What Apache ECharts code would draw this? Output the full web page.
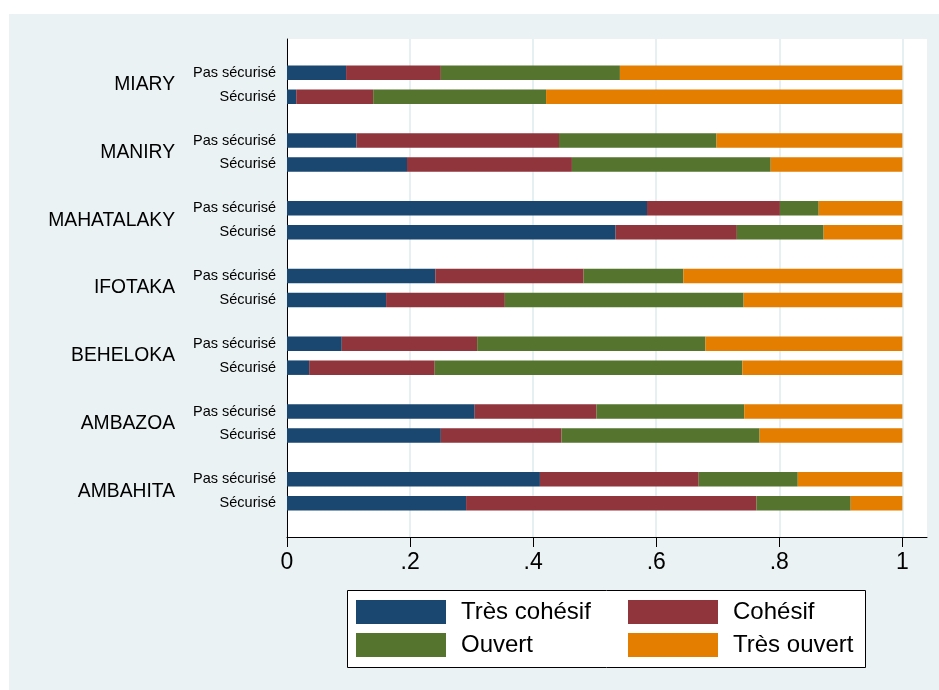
<!DOCTYPE html>
<html>
<head>
<meta charset="utf-8">
<script src="https://cdn.jsdelivr.net/npm/echarts@6/dist/echarts.min.js"></script>
<style>
  html, body { margin: 0; padding: 0; background: #fff; }
  #main { position: absolute; left: 9px; top: 14px; width: 930px; height: 676px; }
</style>
</head>
<body>
<div id="main"></div>
<script>
// villages, top to bottom
const groups = ['MIARY', 'MANIRY', 'MAHATALAKY', 'IFOTAKA', 'BEHELOKA', 'AMBAZOA', 'AMBAHITA']
const subgroups = ['Pas sécurisé', 'Sécurisé']
const seriesNames = ['Très cohésif', 'Cohésif', 'Ouvert', 'Très ouvert']
const xTicks = [0, 0.2, 0.4, 0.6, 0.8, 1]

// shares, per village: [Pas sécurisé, Sécurisé]
const tresCohesif = [0.096, 0.015, 0.113, 0.195, 0.585, 0.534, 0.241, 0.161, 0.089, 0.036, 0.305, 0.250, 0.411, 0.291]
const cohesif = [0.154, 0.125, 0.329, 0.268, 0.216, 0.197, 0.241, 0.193, 0.220, 0.204, 0.198, 0.196, 0.258, 0.472]
const ouvert = [0.291, 0.281, 0.256, 0.323, 0.063, 0.141, 0.162, 0.388, 0.371, 0.500, 0.240, 0.322, 0.161, 0.153]
const tresOuvert = [0.459, 0.579, 0.302, 0.214, 0.136, 0.128, 0.356, 0.258, 0.320, 0.260, 0.257, 0.232, 0.170, 0.084]

const colorList = ['#1a476f', '#90353b', '#55752f', '#e37e00']

// slots on the category axis (gaps like stata's over())
const nSlots = 125
const firstSlot = 8
const groupStep = 17
const subStep = 6

const slotNames = []
const slotLabels = []
for (let i = 0; i < nSlots; i++) {
  slotNames.push('s' + i)
  slotLabels.push('')
}
const barSlots = []
groups.forEach((g, gi) => {
  const base = firstSlot + gi * groupStep
  barSlots.push(base, base + subStep)
  slotLabels[base] = subgroups[0]
  slotLabels[base + subStep] = subgroups[1]
  slotLabels[base + subStep / 2] = '{g|' + g + '}'
})

function toSlots (values) {
  const out = slotNames.map(() => '-')
  values.forEach((v, i) => { out[barSlots[i]] = v })
  return out
}

const allValues = [tresCohesif, cohesif, ouvert, tresOuvert]
const seriesData = allValues.map((vals, k) => {
  return {
    name: seriesNames[k],
    type: 'bar',
    stack: 'total',
    barWidth: 14.5,
    itemStyle: { color: colorList[k] },
    emphasis: { disabled: true },
    data: toSlots(vals)
  }
})

const font = 'Liberation Sans, Arial, sans-serif'

const legendCommon = {
  orient: 'vertical',
  top: 586,
  padding: 0,
  itemWidth: 90,
  itemHeight: 24,
  itemGap: 9,
  icon: 'rect',
  selectedMode: false,
  backgroundColor: 'transparent',
  borderWidth: 0,
  z: 10,
  textStyle: { fontSize: 24, color: '#000', fontFamily: font, padding: [0, 0, 0, 10] }
}

const option = {
  backgroundColor: '#eaf2f3',
  animation: false,
  color: colorList,
  textStyle: { fontFamily: font },
  grid: {
    left: 278,
    right: 12,
    top: 25,
    bottom: 153,
    show: true,
    backgroundColor: '#fff',
    borderWidth: 0
  },
  xAxis: {
    type: 'value',
    min: 0,
    max: 1.04,
    interval: 0.2,
    axisLine: { show: true, lineStyle: { color: '#000', width: 1 } },
    axisTick: { show: true, length: 10, customValues: xTicks, lineStyle: { color: '#000' } },
    axisLabel: {
      customValues: xTicks,
      fontSize: 23,
      color: '#000',
      margin: 14,
      fontFamily: font,
      formatter: function (v) {
        if (v === 0 || v === 1) return String(v)
        return String(v).replace(/^0/, '')
      }
    },
    splitLine: { show: true, lineStyle: { color: '#e6eff1', width: 2 } }
  },
  yAxis: {
    type: 'category',
    inverse: true,
    data: slotNames,
    axisLine: { show: true, lineStyle: { color: '#000', width: 1 } },
    axisTick: { show: false },
    splitLine: { show: false },
    axisLabel: {
      interval: 0,
      margin: 11,
      fontSize: 14.5,
      color: '#000',
      fontFamily: font,
      formatter: function (value, index) {
        return slotLabels[index]
      },
      rich: {
        g: { fontSize: 19.3, color: '#000', fontFamily: font, padding: [0, 101, 0, 0] }
      }
    }
  },
  legend: [
    { ...legendCommon, left: 347, data: [seriesNames[0], seriesNames[2]] },
    { ...legendCommon, left: 619, data: [seriesNames[1], seriesNames[3]] }
  ],
  graphic: [{
    type: 'rect',
    z: 0,
    silent: true,
    shape: { x: 338.5, y: 576.5, width: 518, height: 77 },
    style: { fill: '#fff', stroke: '#000', lineWidth: 1 }
  }],
  series: seriesData
}

const myChart = echarts.init(document.getElementById('main'))
myChart.setOption(option)
</script>
</body>
</html>
